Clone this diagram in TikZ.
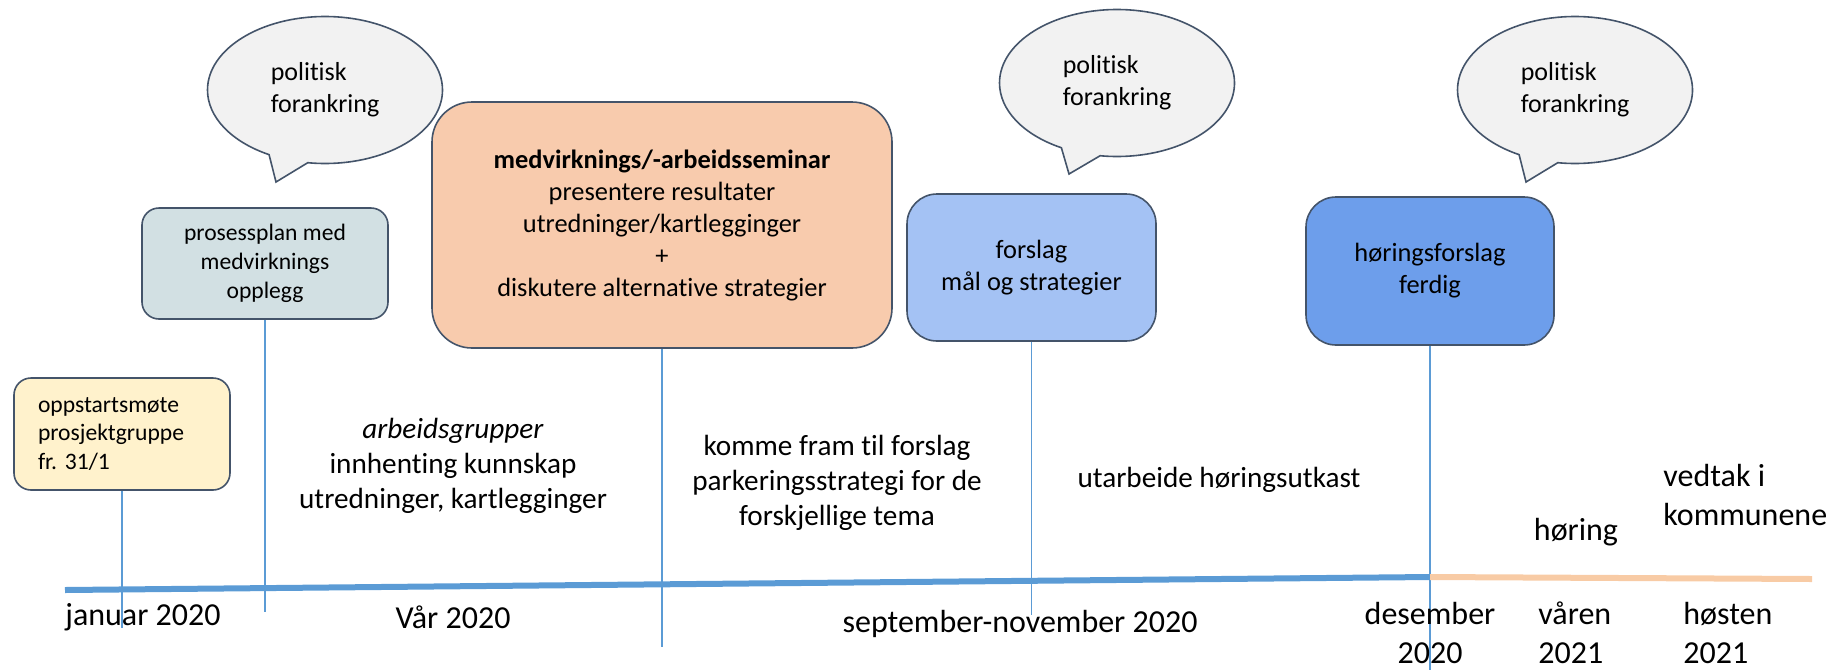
\documentclass[tikz,border=0pt]{standalone}
\usepackage{fontspec}
\setmainfont{Carlito}[Ligatures=NoCommon]
\usetikzlibrary{shapes.callouts}
\frenchspacing

\definecolor{edgegray}{RGB}{68,84,106}
\definecolor{bubblegray}{RGB}{242,242,242}
\definecolor{lineblue}{RGB}{91,155,213}
\definecolor{lineorange}{RGB}{248,203,165}
\definecolor{softyellow}{RGB}{255,242,204}
\definecolor{softteal}{RGB}{210,224,227}
\definecolor{softpeach}{RGB}{248,203,173}
\definecolor{paleblue}{RGB}{164,194,244}
\definecolor{midblue}{RGB}{109,158,235}

\begin{document}
\begin{tikzpicture}[x=0.5pt,y=0.5pt,yscale=-1,xscale=1,
  phasebox/.style={draw=edgegray, line width=0.8pt, rounded corners=8.5pt, align=center, inner sep=0pt},
  bubble/.style={ellipse callout, draw=edgegray, fill=bubblegray, line width=0.8pt, minimum width=117.5pt, minimum height=73.5pt, callout pointer arc=20, align=left, inner sep=0pt, font=\fontsize{13}{16}\selectfont},
  stem/.style={draw=lineblue, line width=0.8pt},
  note/.style={inner sep=0pt, align=center, font=\fontsize{14.6}{17.6}\selectfont},
  datelbl/.style={inner sep=0pt, font=\fontsize{16}{19.5}\selectfont}]

\useasboundingbox (0,0) rectangle (1840,670);

\node (oppstart) [phasebox, fill=softyellow, minimum width=108pt, minimum height=56pt, align=left, text width=84pt, font=\fontsize{11.8}{14.4}\selectfont] at (122,434) {oppstartsmøte\\prosjektgruppe\\fr. 31/1};
\node (prosess) [phasebox, fill=softteal, minimum width=123pt, minimum height=55.5pt, font=\fontsize{11.8}{14.4}\selectfont] at (265,263.5) {prosessplan med\\medvirknings\\opplegg};
\node (seminar) [phasebox, fill=softpeach, minimum width=230pt, minimum height=123pt, rounded corners=20pt, font=\fontsize{13.2}{16}\selectfont] at (662,225) {\textbf{medvirknings/-arbeidsseminar}\\presentere resultater\\utredninger/kartlegginger\\+\\diskutere alternative strategier};
\node (forslag) [phasebox, fill=paleblue, minimum width=124.5pt, minimum height=73.5pt, rounded corners=15pt, font=\fontsize{13.2}{16}\selectfont] at (1031.5,267.5) {forslag\\mål og strategier};
\node (horingsforslag) [phasebox, fill=midblue, minimum width=124pt, minimum height=74pt, rounded corners=15pt, font=\fontsize{13.2}{16}\selectfont] at (1430,271) {høringsforslag\\ferdig};

\node (bubble1) [bubble, callout absolute pointer={(276,182)}] at (325,90) {politisk\\forankring};
\node (bubble2) [bubble, callout absolute pointer={(1069,174)}] at (1117,83) {politisk\\forankring};
\node (bubble3) [bubble, callout absolute pointer={(1526,182)}] at (1575,90) {politisk\\forankring};

\coordinate (oppstart-foot) at (122,628);
\coordinate (prosess-foot) at (265,612);
\coordinate (seminar-foot) at (662,647);
\coordinate (forslag-foot) at (1031.5,615);
\coordinate (horingsforslag-foot) at (1430,670);
\draw [stem] (oppstart) -- (oppstart-foot);
\draw [stem] (prosess) -- (prosess-foot);
\draw [stem] (seminar) -- (seminar-foot);
\draw [stem] (forslag) -- (forslag-foot);
\draw [stem] (horingsforslag) -- (horingsforslag-foot);

\coordinate (start) at (65,590);
\coordinate (desember) at (1430,577);
\coordinate (slutt) at (1812,579);
\draw [lineblue, line width=3pt] (start) -- (desember);
\draw [lineorange, line width=3pt] (desember) -- (slutt);

\node (arbeid) [note] at (453,466) {\textit{arbeidsgrupper}\\innhenting kunnskap\\utredninger, kartlegginger};
\node (komme) [note] at (837,483) {komme fram til forslag\\parkeringsstrategi for de\\forskjellige tema};
\node (utarbeide) [note] at (1219,480) {utarbeide høringsutkast};
\node (horing) [datelbl] at (1576,532) {høring};
\node (vedtak) [datelbl, anchor=west, align=left] at (1663,495) {vedtak i\\kommunene};

\node (jan) [datelbl, anchor=base west] at (65,625) {januar 2020};
\node (var) [datelbl, anchor=base] at (453,628) {Vår 2020};
\node (septnov) [datelbl, anchor=base] at (1020,632) {september-november 2020};
\node (des) [datelbl, align=center] at (1430,633) {desember\\2020};
\node (varen) [datelbl, anchor=west, align=left] at (1538,633) {våren\\2021};
\node (hosten) [datelbl, anchor=west, align=left] at (1683,633) {høsten\\2021};

\end{tikzpicture}
\end{document}
